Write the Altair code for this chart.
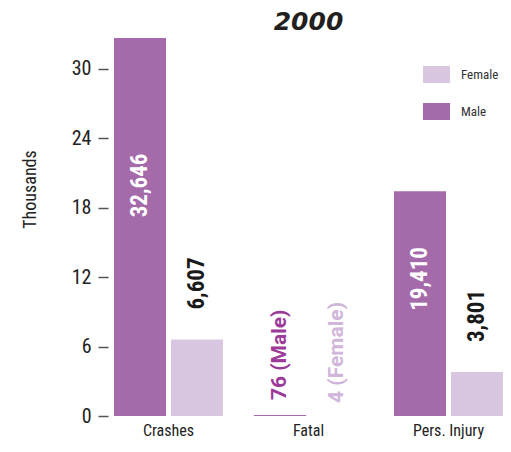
import altair as alt
import pandas as pd

categories = ["Crashes", "Fatal", "Pers. Injury"]
male = [32646, 76, 19410]
female = [6607, 4, 3801]
genders = ["Male", "Female"]

rows = []
for c, m, f in zip(categories, male, female):
    rows.append({"category": c, "gender": "Male", "value": m})
    rows.append({"category": c, "gender": "Female", "value": f})
df = pd.DataFrame(rows)

NARROW = "Roboto Condensed, Roboto, sans-serif"
MALE_C = "#a46aaa"
FEMALE_C = "#d9c6e1"

yaxis = alt.Axis(
    values=[0, 6, 12, 18, 24, 30], title="Thousands", titleFont=NARROW,
    titleFontSize=18, titleFontWeight="normal", titleColor="#222",
    titleX=-78, titleY=155, titleAngle=270, titleBaseline="middle",
    offset=6, domain=False, grid=False, tickSize=10, tickColor="#555",
    tickWidth=1.5, labelFont=NARROW, labelFontSize=20, labelColor="#222",
    labelPadding=7,
)
yscale = alt.Scale(domain=[0, 33], nice=False)

base = alt.Chart(df).transform_calculate(
    k="datum.value / 1000",
    lbl="format(datum.value, ',')",
).encode(
    x=alt.X("category:N", sort=categories,
            scale=alt.Scale(paddingInner=31 / 140, paddingOuter=0),
            axis=alt.Axis(title=None, domain=False, ticks=False, labelAngle=0,
                          labelFont=NARROW, labelFontSize=16, labelColor="#222",
                          labelPadding=6)),
    xOffset=alt.XOffset("gender:N", sort=genders,
                        scale=alt.Scale(paddingInner=5 / 57, paddingOuter=0)),
)

bars = base.mark_bar().encode(
    y=alt.Y("k:Q", scale=yscale, axis=yaxis),
    color=alt.Color("gender:N",
                    scale=alt.Scale(domain=["Female", "Male"], range=[FEMALE_C, MALE_C]),
                    legend=alt.Legend(title=None, orient="none", legendX=309, legendY=27,
                                      symbolType="M-1,-0.63H1V0.63H-1Z", symbolSize=729,
                                      symbolStrokeWidth=0, labelFont=NARROW,
                                      labelFontSize=13, labelColor="#333",
                                      labelOffset=11, rowPadding=14, padding=0)),
)

inside = base.transform_filter(
    "datum.gender == 'Male' && datum.category != 'Fatal'"
).transform_calculate(mid="datum.k * 0.61").mark_text(
    angle=270, align="center", baseline="middle", color="white",
    font=NARROW, fontSize=23, fontWeight="bold",
).encode(y=alt.Y("mid:Q", scale=yscale, axis=yaxis), text="lbl:N")

above = base.transform_filter(
    "datum.gender == 'Female' && datum.category != 'Fatal'"
).mark_text(
    angle=270, align="left", baseline="middle", color="#1a1a1a", dx=30,
    font=NARROW, fontSize=23, fontWeight="bold",
).encode(y=alt.Y("k:Q", scale=yscale, axis=yaxis), text="lbl:N")

fatal_m = base.transform_filter(
    "datum.gender == 'Male' && datum.category == 'Fatal'"
).transform_calculate(t="datum.lbl + ' (Male)'").mark_text(
    angle=270, align="left", baseline="middle", color="#9b3a98", dx=15,
    font="Roboto, sans-serif", fontSize=21, fontWeight="bold",
).encode(y=alt.Y("k:Q", scale=yscale, axis=yaxis), text="t:N")

fatal_f = base.transform_filter(
    "datum.gender == 'Female' && datum.category == 'Fatal'"
).transform_calculate(t="datum.lbl + ' (Female)'").mark_text(
    angle=270, align="left", baseline="middle", color="#d0b6da", dx=13,
    font="Roboto, sans-serif", fontSize=21, fontWeight="bold",
).encode(y=alt.Y("k:Q", scale=yscale, axis=yaxis), text="t:N")

chart = alt.layer(bars, inside, above, fatal_m, fatal_f).properties(
    width=389, height=382,
    title=alt.Title("2000", font="DejaVu Sans", fontSize=25, fontWeight="bold",
                    fontStyle="italic", color="#231f20", anchor="middle",
                    baseline="alphabetic", offset=5, dy=26),
    autosize=alt.AutoSizeParams(type="none"),
    padding={"left": 106, "top": 26, "right": 0, "bottom": 24},
).configure_view(stroke=None)

chart.save("out.html", embed_options={"renderer": "svg", "actions": False})
